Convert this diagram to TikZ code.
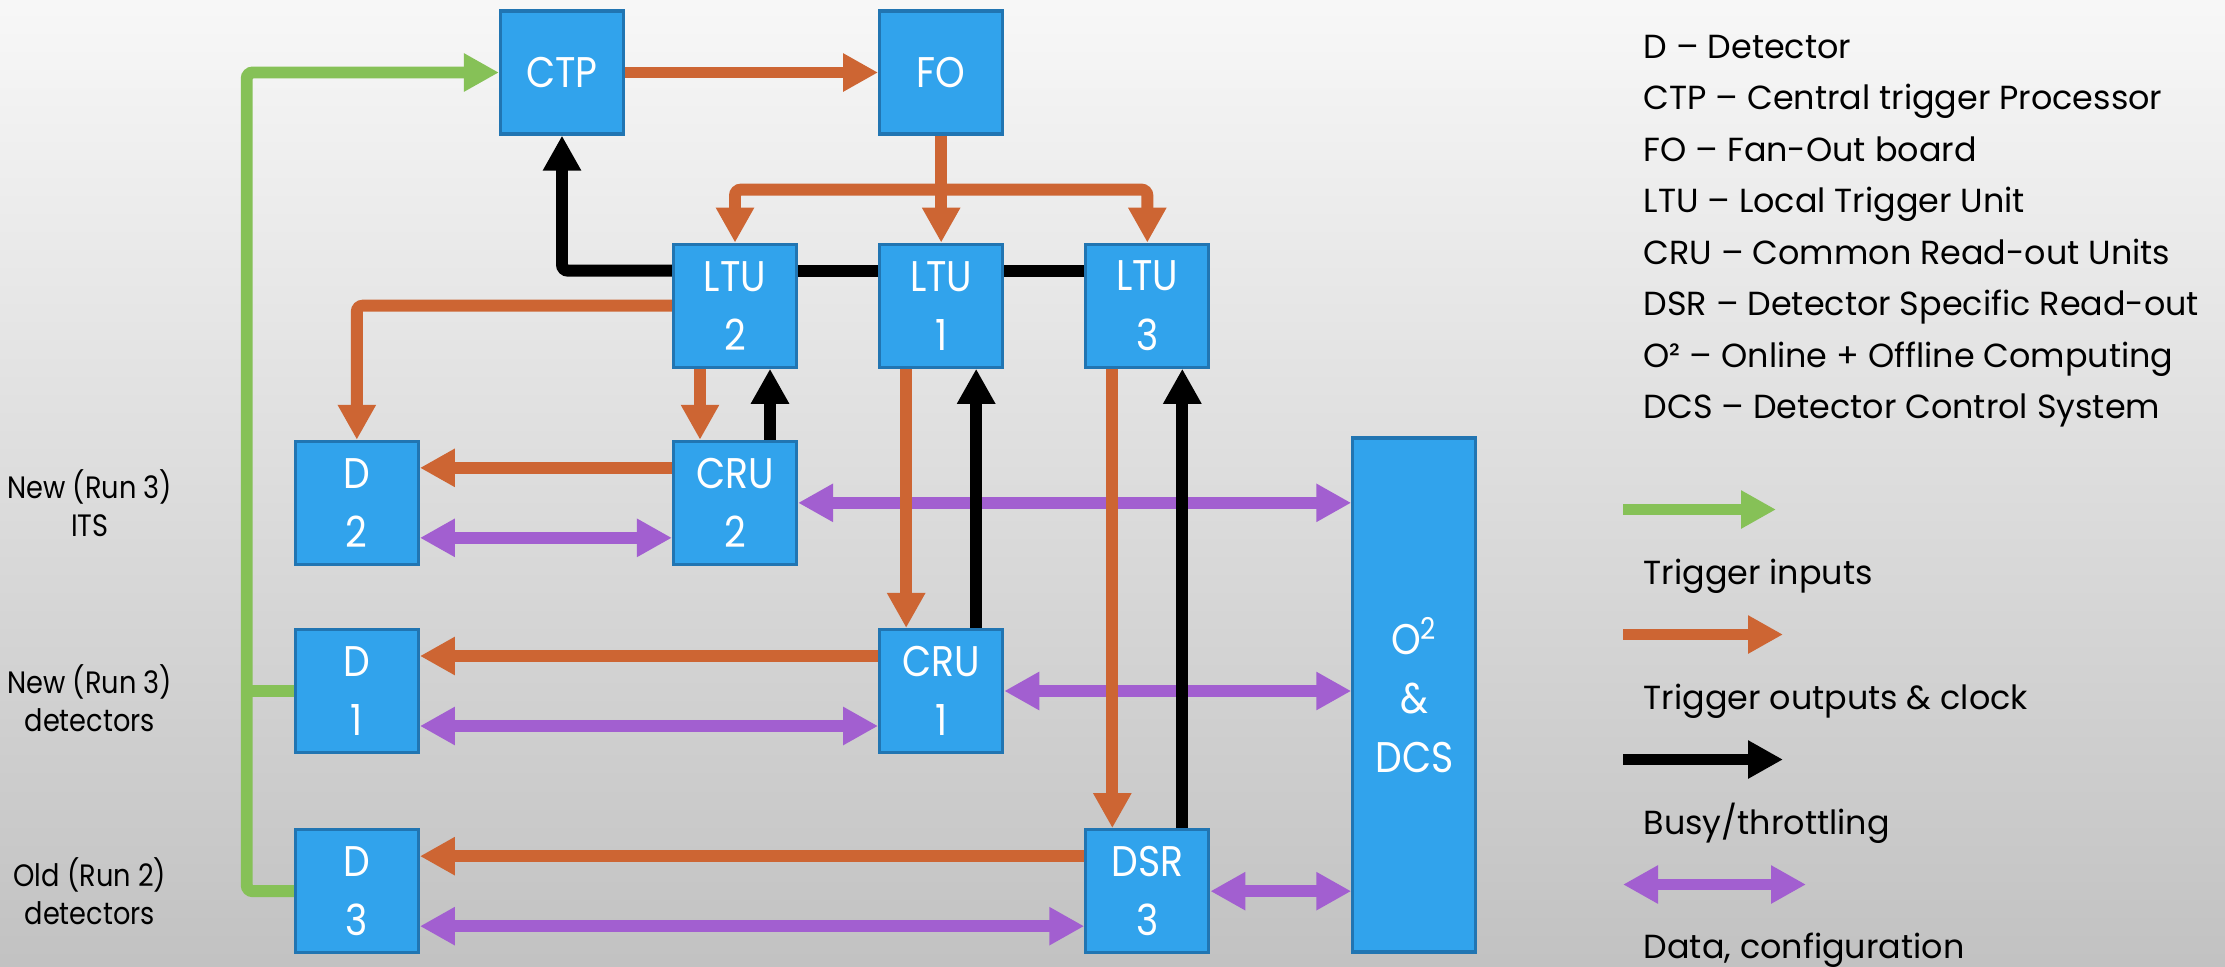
\documentclass[tikz,border=0pt]{standalone}
\usepackage{fontspec}
\setmainfont{Poppins}
\newfontfamily\condfont[FakeStretch=0.88]{Poppins}
\usetikzlibrary{arrows.meta,positioning,calc}

\definecolor{boxblue}{RGB}{49,163,236}
\definecolor{boxedge}{RGB}{33,117,178}
\definecolor{trgorange}{RGB}{205,101,51}
\definecolor{trggreen}{RGB}{134,193,87}
\definecolor{datapurple}{RGB}{162,95,208}

\begin{document}
\begin{tikzpicture}[
  blk/.style={draw=boxedge,fill=boxblue,line width=0.9pt,minimum width=12.3mm,minimum height=12.3mm,
    inner sep=0pt,align=center,text=white,font=\condfont\fontsize{12.2}{16.8}\selectfont},
  lbl/.style={align=center,font=\condfont\fontsize{8.8}{10.8}\selectfont},
  legtxt/.style={anchor=base west,inner sep=0pt,font=\fontsize{9.5}{12}\selectfont},
  wire/.style={line width=3.4pt,rounded corners=0.6mm},
  tin/.style={wire,trggreen},
  tout/.style={wire,trgorange},
  busy/.style={wire,black},
  data/.style={wire,datapurple},
  >={Triangle[length=3.5mm,width=3.6mm]}]
  \shade[top color=white!97!black,bottom color=white!76!black] (0,0) rectangle (22.25,-9.66);
  \useasboundingbox (0,0) rectangle (22.25,-9.66);

  % trigger chain
  \node[blk] (ctp) at (5.62,-0.725) {CTP};
  \node[blk,right=25.3mm of ctp] (fo) {FO};
  \node[blk,below=10.7mm of fo] (ltu1) {LTU\\1};
  \node[blk,left=8mm of ltu1] (ltu2) {LTU\\2};
  \node[blk,right=8mm of ltu1] (ltu3) {LTU\\3};
  % read-out and detectors
  \node[blk,below=7.1mm of ltu2] (cru2) {CRU\\2};
  \node[blk,left=25.2mm of cru2] (d2) {D\\2};
  \node[blk,below=6.2mm of d2] (d1) {D\\1};
  \node[blk,below=7.4mm of d1] (d3) {D\\3};
  \node[blk] (cru1) at (ltu1 |- d1) {CRU\\1};
  \node[blk] (dsr3) at (ltu3 |- d3) {DSR\\3};
  \node[blk,minimum height=51.4mm,right=34.7mm of cru1,yshift=-0.4mm] (o2) {O\textsuperscript{2}\\\&\\DCS};

  \node[lbl] (its) at ([xshift=-20.4mm]d2.west) {New (Run 3)\\ITS};
  \node[lbl] (newdet) at ([xshift=-20.4mm,yshift=-0.7mm]d1.west) {New (Run 3)\\detectors};
  \node[lbl] (olddet) at ([xshift=-20.4mm]d3.west) {Old (Run 2)\\detectors};

  % data, configuration
  \draw[data,<->] ([yshift=-3.5mm]d2.east) -- ([yshift=-3.5mm]cru2.west);
  \draw[data,<->] ([yshift=-3.5mm]d1.east) -- ([yshift=-3.5mm]cru1.west);
  \draw[data,<->] ([yshift=-3.5mm]d3.east) -- ([yshift=-3.5mm]dsr3.west);
  \draw[data,<->] (cru2.east) -- (cru2.east -| o2.west);
  \draw[data,<->] (cru1.east) -- (cru1.east -| o2.west);
  \draw[data,<->] (dsr3.east) -- (dsr3.east -| o2.west);

  % trigger inputs
  \draw[tin,->] (d3.west) -| ([xshift=-4.7mm]d1.west) |- (ctp.west);
  \draw[tin] (d1.west) -- ([xshift=-4.7mm]d1.west);

  % trigger outputs & clock
  \draw[tout,->] (ctp.east) -- (fo.west);
  \coordinate (fan) at ([yshift=-5.4mm]fo.south);
  \draw[tout,->] (fo.south) -- (ltu1.north);
  \draw[tout,->] (fan) -| (ltu2.north);
  \draw[tout,->] (fan) -| (ltu3.north);
  \draw[tout,->] (ltu2.west) -| (d2.north);
  \draw[tout,->] ([xshift=-3.5mm]ltu2.south) -- ([xshift=-3.5mm]cru2.north);
  \draw[tout,->] ([xshift=-3.5mm]ltu1.south) -- ([xshift=-3.5mm]cru1.north);
  \draw[tout,->] ([xshift=-3.5mm]ltu3.south) -- ([xshift=-3.5mm]dsr3.north);
  \draw[tout,->] ([yshift=3.5mm]cru2.west) -- ([yshift=3.5mm]d2.east);
  \draw[tout,->] ([yshift=3.5mm]cru1.west) -- ([yshift=3.5mm]d1.east);
  \draw[tout,->] ([yshift=3.5mm]dsr3.west) -- ([yshift=3.5mm]d3.east);

  % busy / throttling
  \draw[busy,->] ([xshift=3.5mm]cru2.north) -- ([xshift=3.5mm]ltu2.south);
  \draw[busy,->] ([xshift=3.5mm]cru1.north) -- ([xshift=3.5mm]ltu1.south);
  \draw[busy,->] ([xshift=3.5mm]dsr3.north) -- ([xshift=3.5mm]ltu3.south);
  \draw[busy] ([yshift=3.5mm]ltu3.west) -- ([yshift=3.5mm]ltu1.east);
  \draw[busy] ([yshift=3.5mm]ltu1.west) -- ([yshift=3.5mm]ltu2.east);
  \draw[busy,->] ([yshift=3.5mm]ltu2.west) -| (ctp.south);

  % legend
  \foreach \txt [count=\i] in {D -- Detector,CTP -- Central trigger Processor,FO -- Fan-Out board,
      LTU -- Local Trigger Unit,CRU -- Common Read-out Units,DSR -- Detector Specific Read-out,
      O² -- Online + Offline Computing,DCS -- Detector Control System}
    \node[legtxt] (abbr\i) at (16.43,{-0.58-0.515*(\i-1)}) {\txt};

  \coordinate (kin) at (16.23,-5.095);  \coordinate (kin2) at (17.76,-5.095);
  \coordinate (kout) at (16.23,-6.345); \coordinate (kout2) at (17.83,-6.345);
  \coordinate (kbsy) at (16.23,-7.595); \coordinate (kbsy2) at (17.83,-7.595);
  \coordinate (kdat) at (16.23,-8.845); \coordinate (kdat2) at (18.06,-8.845);
  \draw[tin,->] (kin) -- (kin2);
  \draw[tout,->] (kout) -- (kout2);
  \draw[busy,->] (kbsy) -- (kbsy2);
  \draw[data,<->] (kdat) -- (kdat2);
  \node[legtxt] (lin) at (16.43,-5.84) {Trigger inputs};
  \node[legtxt] (lout) at (16.43,-7.09) {Trigger outputs \& clock};
  \node[legtxt] (lbsy) at (16.43,-8.34) {Busy/throttling};
  \node[legtxt] (ldat) at (16.43,-9.58) {Data, configuration};
\end{tikzpicture}
\end{document}
